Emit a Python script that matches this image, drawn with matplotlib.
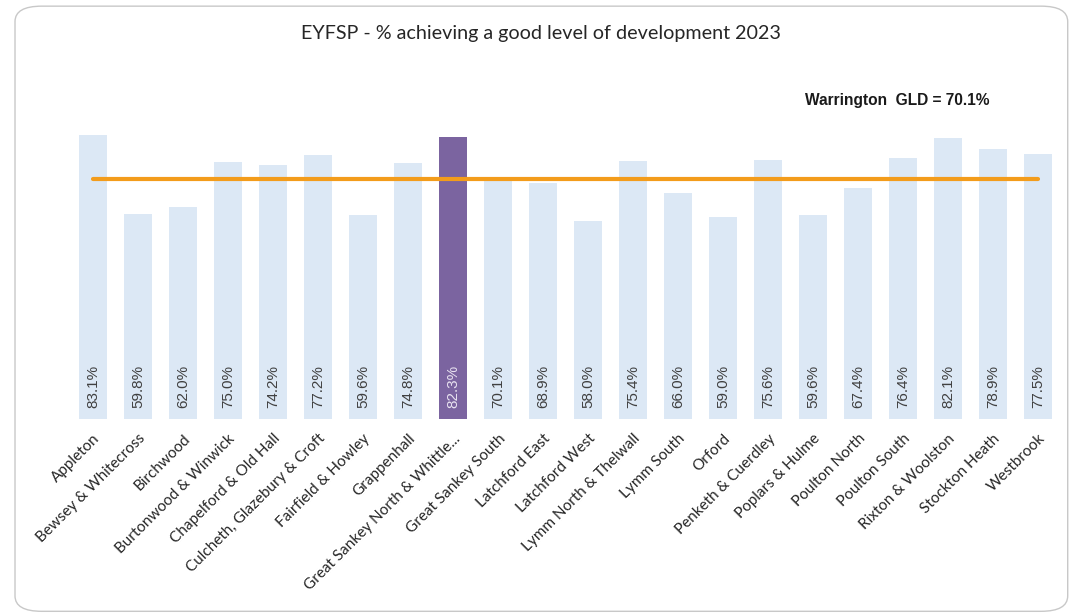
import matplotlib
matplotlib.use("Agg")
import matplotlib.pyplot as plt
import numpy as np
from matplotlib.patches import FancyBboxPatch

# data
wards = ["Appleton", "Bewsey & Whitecross", "Birchwood", "Burtonwood & Winwick",
         "Chapelford & Old Hall", "Culcheth, Glazebury & Croft", "Fairfield & Howley",
         "Grappenhall", "Great Sankey North & Whittle...", "Great Sankey South",
         "Latchford East", "Latchford West", "Lymm North & Thelwall", "Lymm South",
         "Orford", "Penketh & Cuerdley", "Poplars & Hulme", "Poulton North",
         "Poulton South", "Rixton & Woolston", "Stockton Heath", "Westbrook"]
gld = [83.1, 59.8, 62.0, 75.0, 74.2, 77.2, 59.6, 74.8, 82.3, 70.1, 68.9,
       58.0, 75.4, 66.0, 59.0, 75.6, 59.6, 67.4, 76.4, 82.1, 78.9, 77.5]
warrington = 70.1
highlight = "Great Sankey North & Whittle..."

fig = plt.figure(figsize=(10.72, 6.15), dpi=100)

# rounded chart border
border = FancyBboxPatch((0.014, 0.006), 0.982, 0.984,
                        boxstyle="round,pad=0,rounding_size=0.025",
                        transform=fig.transFigure, facecolor="none",
                        edgecolor="#c8c8c8", linewidth=1.0, zorder=-1)
fig.patches.append(border)

ax = fig.add_axes([0.0658, 0.3187, 0.9235, 0.5008])
ax.set_facecolor("none")

x = np.arange(len(wards))
colors = ["#7B64A0" if w == highlight else "#DCE8F5" for w in wards]
ax.bar(x, gld, width=0.63, color=colors, zorder=2)

# Warrington average line
ax.plot([x[0], x[-1]], [warrington, warrington], color="#F39C1B",
        linewidth=3.0, solid_capstyle="round", zorder=3)

# value labels at the bottom of bars
for xi, v, w in zip(x, gld, wards):
    ax.text(xi, 3.3, f"{v:.1f}%", rotation=90, ha="center", va="bottom",
            fontsize=11, family="Liberation Sans",
            color="#E8E2F0" if w == highlight else "#404040", zorder=4)

ax.set_xlim(-0.5, len(wards) - 0.5)
ax.set_ylim(0, 90)
ax.set_yticks([])
ax.set_xticks(x)
ax.set_xticklabels(wards, rotation=45, ha="right", rotation_mode="anchor",
                   fontsize=11, family="Lato", color="#262626")
ax.tick_params(axis="x", length=0, pad=9)
for s in ax.spines.values():
    s.set_visible(False)

fig.text(0.505, 0.946, "EYFSP - % achieving a good level of development 2023",
         ha="center", va="center", fontsize=14.2, family="Lato", color="#262626")
fig.text(0.837, 0.837, "Warrington  GLD = 70.1%", ha="center", va="center",
         fontsize=11.2, fontweight="bold", family="Liberation Sans", color="#1a1a1a")

fig.savefig("out.png", dpi=100)
